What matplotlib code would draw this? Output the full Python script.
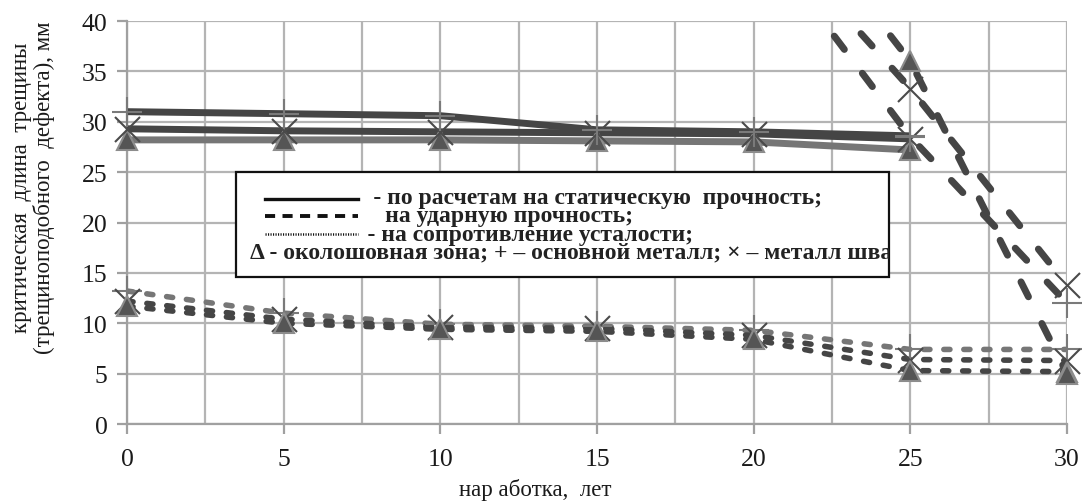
import matplotlib.pyplot as plt
from matplotlib.patches import Rectangle
from matplotlib.lines import Line2D
from matplotlib.ticker import MultipleLocator

plt.rcParams['font.family'] = ['Liberation Serif', 'DejaVu Serif']

# наработка, лет
years_stat = [0, 5, 10, 15, 20, 25]
years_imp = [20, 25, 30]
years_fat = [0, 5, 10, 15, 20, 25, 30]

# статическая прочность: основной металл, металл шва, околошовная зона
stat_base = [31.0, 30.8, 30.6, 29.2, 29.0, 28.6]
stat_weld = [29.3, 29.1, 29.0, 28.9, 28.8, 28.3]
stat_haz = [28.2, 28.2, 28.2, 28.1, 28.0, 27.2]

# ударная прочность
imp_base = [49.1, 28.5, 12.0]
imp_weld = [50.6, 33.3, 13.8]
imp_haz = [56.0, 36.0, 5.0]

# сопротивление усталости
fat_base = [13.2, 11.0, 9.9, 9.7, 9.3, 7.4, 7.4]
fat_weld = [12.2, 10.4, 9.6, 9.5, 8.8, 6.4, 6.3]
fat_haz = [11.7, 10.0, 9.4, 9.2, 8.4, 5.3, 5.2]

# строки пояснения (отступы под образцы линий)
legend_lines = [' ' * 21 + '- по расчетам на статическую  прочность;',
                ' ' * 23 + 'на ударную прочность;',
                ' ' * 20 + '- на сопротивление усталости;',
                'Δ - околошовная зона; + – основной металл; × – металл шва;']

DARK = '#454545'
LIGHT = '#767676'
GRID = '#b4b4b4'

W, H = 1086, 502
fig = plt.figure(figsize=(W / 100, H / 100), dpi=100)
ax = fig.add_axes([127 / W, 1 - 425 / H, 940 / W, 403 / H])

mk = {
    'haz': dict(marker='^', ms=15, mfc='#555555', mec='#8c8c8c', mew=1.5),
    'weld': dict(marker='x', ms=18, mec='#4a4a4a', mew=1.5),
    'base': dict(marker='+', ms=22, mec='#7a7a7a', mew=1.5),
}


def series(x, y, color, lw, dashes, kind):
    if dashes is None:
        ax.plot(x, y, color=color, lw=lw, solid_capstyle='butt', zorder=3)
    else:
        ax.plot(x, y, color=color, lw=lw, dashes=dashes,
                dash_capstyle='round', zorder=3)
    xs = [a for a, b in zip(x, y) if b <= 40]
    ys = [b for b in y if b <= 40]
    ax.plot(xs, ys, ls='none', clip_on=False, zorder=4, **mk[kind])


# сопротивление усталости
series(years_fat, fat_base, LIGHT, 4, (1.1, 2.5), 'base')
series(years_fat, fat_weld, DARK, 4, (1.1, 2.5), 'weld')
series(years_fat, fat_haz, DARK, 4, (1.1, 2.5), 'haz')

# статическая прочность
series(years_stat, stat_haz, LIGHT, 5, None, 'haz')
series(years_stat, stat_weld, DARK, 5, None, 'weld')
series(years_stat, stat_base, DARK, 5, None, 'base')

# ударная прочность
series(years_imp, imp_base, DARK, 5, (2.4, 4.3), 'base')
series(years_imp, imp_weld, DARK, 5, (2.4, 4.3), 'weld')
series(years_imp, imp_haz, DARK, 5, (2.4, 4.3), 'haz')

ax.set_xlim(0, 30)
ax.set_ylim(0, 40)
ax.set_xticks(range(0, 31, 5))
ax.set_yticks(range(0, 41, 5))
ax.xaxis.set_minor_locator(MultipleLocator(2.5))
ax.grid(True, which='both', color=GRID, lw=1.6, zorder=0)
ax.set_axisbelow(True)
for s in ['top', 'right']:
    ax.spines[s].set_visible(False)
for s in ['left', 'bottom']:
    ax.spines[s].set_color('#a0a0a0')
    ax.spines[s].set_linewidth(1.6)
ax.tick_params(which='major', length=7, width=1.6, color='#a0a0a0',
               labelsize=18.5, labelcolor='#1a1a1a')
ax.tick_params(axis='y', pad=7)
ax.tick_params(axis='x', pad=10)
ax.tick_params(which='minor', length=0)

ax.set_xlabel('нар аботка,  лет', fontsize=16.5, color='#1a1a1a')
ax.xaxis.set_label_coords((535 - 127) / 940, -0.135)
fig.text(33 / W, 1 - 188 / H,
         'критическая  длина  трещины\n(трещиноподобного  дефекта), мм',
         rotation=90, ha='center', va='center', multialignment='center',
         fontsize=16.5, color='#1a1a1a', linespacing=1.05)

# пояснения к линиям
ft = fig.transFigure
box = Rectangle((236 / W, 1 - 278 / H), 653 / W, 105 / H,
                transform=ft, facecolor='white',
                edgecolor='#111111', lw=1.6, zorder=5)
fig.patches.append(box)
samples = [(None, 200, 2.4), ((2.6, 1.9), 217, 2.8), ((0.45, 0.55), 235, 1.8)]
for dash, yy, lw in samples:
    ln = Line2D([265 / W, 358 / W], [1 - yy / H] * 2, transform=ft,
                color='#111111', lw=lw, zorder=6)
    if dash is not None:
        ln.set_dashes(dash)
    fig.lines.append(ln)
t = fig.text(250 / W, 1 - 226 / H, '\n'.join(legend_lines),
             ha='left', va='center', multialignment='left',
             fontsize=17, weight='bold', color='#222222',
             linespacing=0.82, zorder=7)
t.set_clip_path(box)

fig.savefig('out.png', dpi=100)
